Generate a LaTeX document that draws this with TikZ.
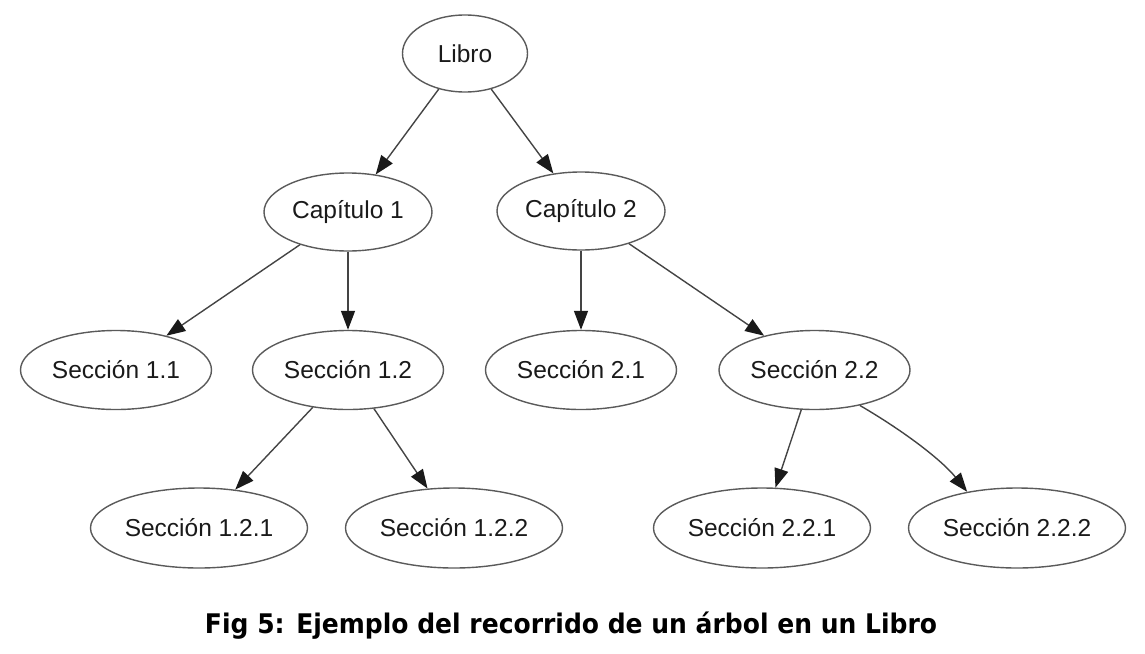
\documentclass[tikz,border=0pt]{standalone}
\usepackage{fontspec}
\setmainfont{Liberation Sans}
\newfontfamily\capfont{DejaVu Sans}
\usetikzlibrary{arrows.meta,shapes.geometric}
\definecolor{nodeline}{HTML}{5A5A5A}
\definecolor{edgeline}{HTML}{444444}
\definecolor{tipfill}{HTML}{1A1A1A}
\definecolor{txt}{HTML}{1A1A1A}
\tikzset{
  tnode/.style={ellipse, draw=nodeline, line width=1.4pt, inner sep=0pt,
    text=txt, font=\fontsize{24.5}{28}\selectfont},
  lvlA/.style={tnode, minimum width=125pt, minimum height=77pt},
  lvlB/.style={tnode, minimum width=168pt, minimum height=78pt},
  lvlC/.style={tnode, minimum width=191pt, minimum height=79pt},
  lvlD/.style={tnode, minimum width=217pt, minimum height=80pt},
  edge/.style={draw=edgeline, line width=1.4pt,
    -{Triangle[length=19pt,width=14pt,fill=tipfill,color=tipfill]}}
}
\begin{document}
\begin{tikzpicture}[x=1pt,y=-1pt]
\useasboundingbox (0,0) rectangle (1145,653);
\node[lvlA] (libro) at (465,53.5) {Libro};
\node[lvlB] (c1) at (348,212) {Capítulo 1};
\node[lvlB] (c2) at (581,211) {Capítulo 2};
\node[lvlC] (s11) at (116,370) {Sección 1.1};
\node[lvlC] (s12) at (348,370) {Sección 1.2};
\node[lvlC] (s21) at (581,370) {Sección 2.1};
\node[lvlC] (s22) at (814.5,370) {Sección 2.2};
\node[lvlD] (s121) at (199,528) {Sección 1.2.1};
\node[lvlD] (s122) at (454,528) {Sección 1.2.2};
\node[lvlD] (s221) at (762,528) {Sección 2.2.1};
\node[lvlD] (s222) at (1017,528) {Sección 2.2.2};

\draw[edge] (libro) -- (c1);
\draw[edge] (libro) -- (c2);
\draw[edge] (c1) -- (s11);
\draw[edge] (c1) -- (s12);
\draw[edge] (c2) -- (s21);
\draw[edge] (c2) -- (s22);
\draw[edge] (s12) -- (s121);
\draw[edge] (s12) -- (s122);
\draw[edge] (s22) -- (s221);
\draw[edge] (s22.-38) .. controls +(48,28) and +(-24,-30) .. (s222.144);

\node[text=black, inner sep=0pt] (cap) at (571,626)
  {\resizebox{732pt}{\height}{\capfont\bfseries\fontsize{27}{30}\selectfont Fig 5: Ejemplo del recorrido de un árbol en un Libro}};
\end{tikzpicture}
\end{document}
